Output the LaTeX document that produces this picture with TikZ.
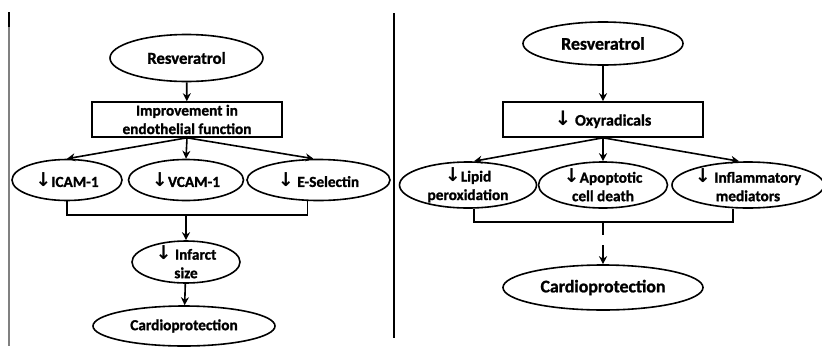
\documentclass[tikz,border=0pt]{standalone}
\usepackage{fontspec}
\setmainfont{Carlito}[BoldFeatures={FakeBold=1.2}]
\newfontfamily\arrowfont{DejaVu Sans}
\usetikzlibrary{arrows.meta,shapes.geometric}
\newcommand{\dn}{{\arrowfont\bfseries\scalebox{1.25}{↓}}}
\newcommand{\fsz}[1]{\fontsize{#1}{18.5}\selectfont\bfseries}

\begin{document}
\begin{tikzpicture}[x=1pt, y=-1pt, >={Stealth[length=8pt,width=8pt]}, line width=1.6pt,
    oval/.style={ellipse, draw, inner xsep=-6pt, inner ysep=-6pt, align=center, font=\fsz{15.3}},
    panel/.style={rectangle, draw, inner sep=0pt, align=center, font=\fsz{15.3}}]
	\useasboundingbox (0,0) rectangle (822,346);
	% frame lines
	\draw[black!50, line width=2pt] (8.5,12) -- (8.5,346);
	\draw[line width=2pt] (8.5,12) -- (8.5,27);
	\draw[line width=2pt] (394,13) -- (394,338);

	% left panel
	\node[oval, minimum width=153, minimum height=47, font=\fsz{16.7}] (resL) at (186.5,58) {Resveratrol};
	\node[panel, minimum width=190, minimum height=35] (endo) at (187,119.5) {Improvement in\\endothelial function};
	\node[oval, minimum width=110, minimum height=41] (icam) at (67,180) {\dn ICAM-1};
	\node[oval, minimum width=115, minimum height=41] (vcam) at (186,180) {\dn VCAM-1};
	\node[oval, minimum width=143, minimum height=41] (esel) at (318.5,180) {\dn\ E-Selectin};
	\node[oval, minimum width=108, minimum height=42] (infarct) at (186,262) {\dn\ Infarct\\size};
	\node[oval, minimum width=182, minimum height=40, font=\fsz{15.3}] (cardL) at (184,326) {Cardioprotection};
	\draw[->] (resL) -- (endo);
	\draw[->] (endo.south) -- (icam.north);
	\draw[->] (endo.south) -- (vcam.north);
	\draw[->] (endo.south) -- ([xshift=-5pt]esel.north);
	\coordinate (joinL) at (186,215);
	\draw (icam.south) |- (joinL) -| ([xshift=-11pt]esel.south);
	\draw[->] (joinL) -- (infarct.north);
	\draw[->] (infarct) -- (cardL);

	% right panel
	\node[oval, minimum width=160, minimum height=43, font=\fsz{17.8}] (resR) at (603,43.5) {Resveratrol};
	\node[panel, minimum width=200, minimum height=35, font=\fsz{16}] (oxy) at (603,119.5) {\dn\ Oxyradicals};
	\node[oval, minimum width=137, minimum height=46] (lipid) at (468,185) {\dn Lipid\\peroxidation};
	\node[oval, minimum width=129, minimum height=46] (apop) at (603,185) {\dn Apoptotic\\cell death};
	\node[oval, minimum width=152, minimum height=46] (infl) at (748,185) {\dn\ Inflammatory\\mediators};
	\node[oval, minimum width=200, minimum height=45, font=\fsz{17.8}] (cardR) at (603,287.5) {Cardioprotection};
	\draw[->] (resR) -- (oxy);
	\draw[->] (oxy.south) -- ([xshift=6pt]lipid.north);
	\draw[->] (oxy.south) -- (apop.north);
	\draw[->] (oxy.south) -- ([xshift=-9pt]infl.north);
	\coordinate (joinR) at (603,222);
	\coordinate (cardIn) at (603,245);
	\draw ([xshift=6pt]lipid.south) |- (joinR) -| ([xshift=-15pt]infl.south);
	\draw (joinR) -- ++(0,13);
	\draw[->] (cardIn) -- (cardR.north);
\end{tikzpicture}
\end{document}
